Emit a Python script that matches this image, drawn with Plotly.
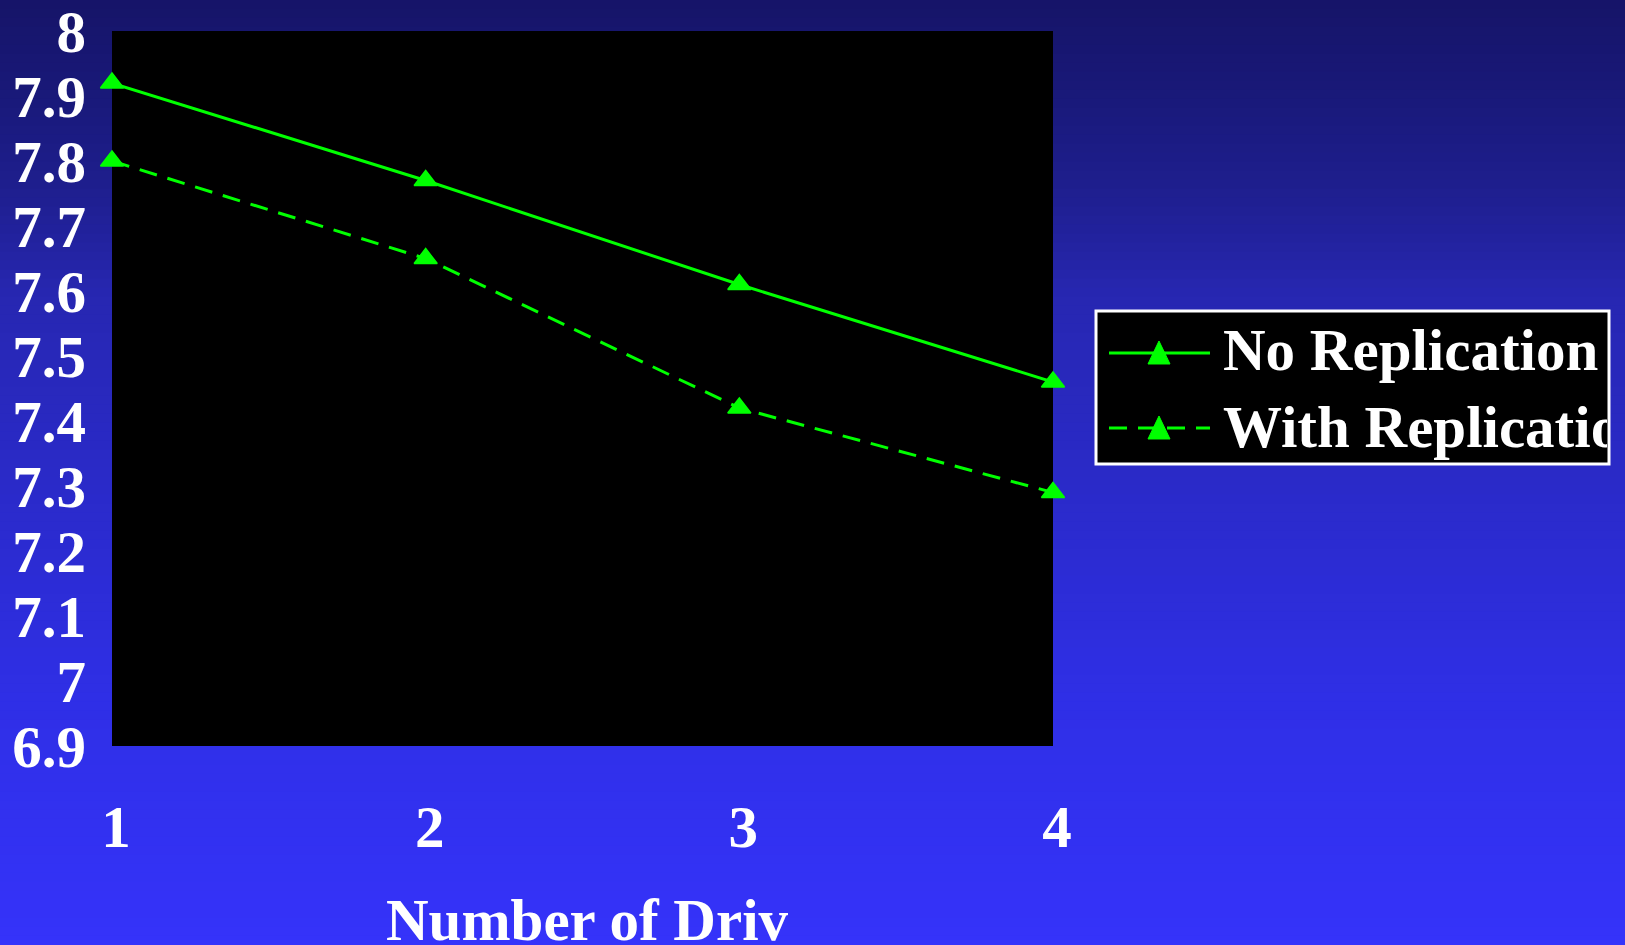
import plotly.graph_objects as go

# ---- data ----
drives = [1, 2, 3, 4]
no_replication = [7.92, 7.77, 7.61, 7.46]
with_replication = [7.80, 7.65, 7.42, 7.29]
y_tickvals = [6.9, 7.0, 7.1, 7.2, 7.3, 7.4, 7.5, 7.6, 7.7, 7.8, 7.9, 8.0]
y_ticktext = ["6.9", "7", "7.1", "7.2", "7.3", "7.4", "7.5", "7.6", "7.7", "7.8", "7.9", "8"]
x_tickvals = [1, 2, 3, 4]
x_ticktext = ["1", "2", "3", "4"]
series_names = ["No Replication", "With Replication"]
x_title = "Number of Drives"

# ---- layout geometry (pixels) ----
W, H = 1625, 945
L, R, T, B = 112, 1053, 31, 746

def fx(px):
    return (px - L) / (R - L)

def fy(py):
    return (B - py) / (B - T)

FONT = "Liberation Serif, Times New Roman, serif"
FS = 59
GREEN = "#00ff00"

fig = go.Figure()
fig.add_trace(go.Scatter(
    x=drives, y=no_replication, name=series_names[0], mode="lines+markers",
    line=dict(color=GREEN, width=3),
    marker=dict(symbol="triangle-up", size=20, color=GREEN, line=dict(color=GREEN, width=1.5)),
    cliponaxis=False, showlegend=False))
fig.add_trace(go.Scatter(
    x=drives, y=with_replication, name=series_names[1], mode="lines+markers",
    line=dict(color=GREEN, width=3, dash="18px,11px"),
    marker=dict(symbol="triangle-up", size=20, color=GREEN, line=dict(color=GREEN, width=1.5)),
    cliponaxis=False, showlegend=False))

# ---- gradient background ----
stops = [(0, (22, 20, 104)), (100, (25, 25, 122)), (200, (31, 31, 145)),
         (300, (39, 39, 178)), (480, (42, 42, 200)), (700, (47, 47, 230)),
         (945, (53, 51, 250))]

def col(py):
    for (y0, c0), (y1, c1) in zip(stops[:-1], stops[1:]):
        if y0 <= py <= y1:
            t = (py - y0) / (y1 - y0)
            return "rgb(%d,%d,%d)" % tuple(round(a + (b - a) * t) for a, b in zip(c0, c1))
    return "rgb(%d,%d,%d)" % stops[-1][1]

shapes = []
step = 9
for py in range(0, H, step):
    shapes.append(dict(type="rect", xref="paper", yref="paper", layer="below",
                       x0=fx(-5), x1=fx(W + 5), y0=fy(py - 0.5), y1=fy(py + step + 0.5),
                       fillcolor=col(py + step / 2), line=dict(width=0)))
# plot area black
shapes.append(dict(type="rect", xref="paper", yref="paper", layer="below",
                   x0=0, x1=1, y0=0, y1=1, fillcolor="black", line=dict(width=0)))

# ---- manual legend ----
LX0, LX1, LY0, LY1 = 1096, 1609, 311, 464
shapes.append(dict(type="rect", xref="paper", yref="paper", layer="above",
                   x0=fx(LX0), x1=fx(LX1), y0=fy(LY0), y1=fy(LY1),
                   fillcolor="black", line=dict(color="white", width=3)))
for ly, dash in [(353, "solid"), (428, "18px,11px")]:
    shapes.append(dict(type="line", xref="paper", yref="paper", layer="above",
                       x0=fx(1109), x1=fx(1210), y0=fy(ly), y1=fy(ly),
                       line=dict(color=GREEN, width=3, dash=dash)))
    cx, apex, base = 1159, ly - 12, ly + 11
    path = "M %f,%f L %f,%f L %f,%f Z" % (fx(cx - 11), fy(base), fx(cx + 11), fy(base), fx(cx), fy(apex))
    shapes.append(dict(type="path", xref="paper", yref="paper", layer="above",
                       path=path, fillcolor=GREEN, line=dict(color=GREEN, width=1)))

annotations = []
for name, cy in zip(series_names, [350, 427]):
    annotations.append(dict(text=name, xref="paper", yref="paper", x=fx(1222), y=fy(cy),
                            xanchor="left", yanchor="middle", align="left", width=384,
                            borderpad=0, showarrow=False,
                            font=dict(family=FONT, size=FS, color="white", weight="bold")))
annotations.append(dict(text=x_title, xref="paper", yref="paper", x=fx(385), y=fy(920),
                        xanchor="left", yanchor="middle", align="left", width=402,
                        borderpad=0, showarrow=False,
                        font=dict(family=FONT, size=FS, color="white", weight="bold")))

fig.update_layout(
    width=W, height=H,
    margin=dict(l=L, r=W - R, t=T, b=H - B, pad=0),
    paper_bgcolor="#22228a", plot_bgcolor="black",
    shapes=shapes, annotations=annotations, showlegend=False,
    xaxis=dict(range=[1, 4], tickvals=x_tickvals, ticktext=x_ticktext,
               showgrid=False, zeroline=False, showline=False,
               ticks="", ticklabelstandoff=41, ticklabelshift=4, automargin=False,
               ticklabeloverflow="allow",
               tickfont=dict(family=FONT, size=FS, color="white", weight="bold")),
    yaxis=dict(range=[6.9, 8.0001], tickvals=y_tickvals, ticktext=y_ticktext,
               showgrid=False, zeroline=False, showline=False,
               ticks="", ticklabelstandoff=25, automargin=False,
               ticklabeloverflow="allow",
               tickfont=dict(family=FONT, size=FS, color="white", weight="bold")),
)

fig.write_html("out.html")
